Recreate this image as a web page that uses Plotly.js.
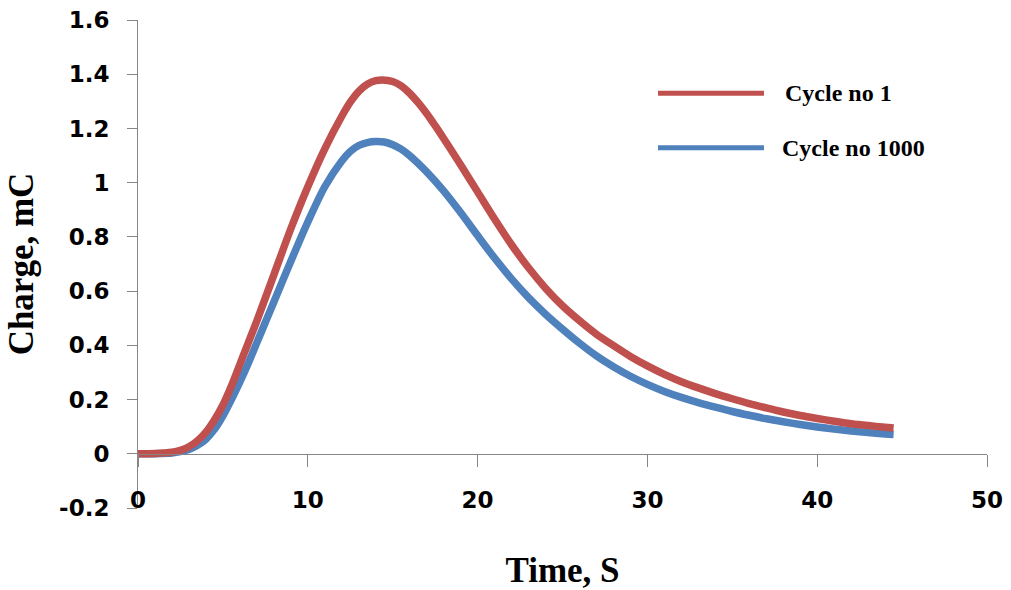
<!DOCTYPE html>
<html>
<head>
<meta charset="utf-8">
<script src="https://cdn.plot.ly/plotly-3.0.1.min.js"></script>
<style>html,body{margin:0;padding:0;background:#fff;}#chart{width:1011px;height:590px;}</style>
</head>
<body>
<div id="chart"></div>
<script>
// Data
const seriesNames = ["Cycle no 1", "Cycle no 1000"];
const timeRed = [0, 1, 2, 2.5, 3, 3.5, 4, 4.5, 5, 5.5, 6, 6.5, 7, 8, 9, 10, 11, 12, 12.5, 13, 13.5, 14, 14.4, 15, 15.5, 16, 16.5, 17, 17.5, 18, 18.5, 19, 20, 21, 22, 23, 24, 25, 26, 27, 28, 29, 30, 31, 32, 33, 34, 35, 36, 37, 38, 39, 40, 41, 42, 43, 44, 44.5];
const chargeRed = [0, 0.001, 0.006, 0.013, 0.026, 0.048, 0.08, 0.125, 0.18, 0.25, 0.33, 0.41, 0.49, 0.66, 0.83, 0.985, 1.125, 1.245, 1.297, 1.337, 1.363, 1.376, 1.379, 1.373, 1.357, 1.33, 1.295, 1.255, 1.21, 1.163, 1.115, 1.066, 0.966, 0.866, 0.771, 0.686, 0.611, 0.546, 0.491, 0.441, 0.399, 0.359, 0.324, 0.293, 0.266, 0.243, 0.222, 0.203, 0.185, 0.169, 0.154, 0.141, 0.13, 0.12, 0.111, 0.104, 0.098, 0.095];
const timeBlue = [0, 1, 2, 2.5, 3, 3.5, 4, 4.5, 5, 5.5, 6, 6.5, 7, 7.5, 8, 9, 10, 11, 12, 12.5, 13, 13.5, 14, 14.5, 15, 15.5, 16, 17, 18, 19, 20, 21, 22, 23, 24, 25, 26, 27, 28, 29, 30, 31, 32, 33, 34, 35, 36, 37, 38, 39, 40, 41, 42, 43, 44, 44.5];
const chargeBlue = [0, 0.0005, 0.003, 0.008, 0.016, 0.031, 0.054, 0.09, 0.14, 0.2, 0.265, 0.335, 0.41, 0.485, 0.56, 0.71, 0.855, 0.985, 1.08, 1.115, 1.137, 1.148, 1.152, 1.15, 1.14, 1.124, 1.1, 1.04, 0.97, 0.89, 0.805, 0.722, 0.645, 0.576, 0.515, 0.46, 0.408, 0.361, 0.321, 0.286, 0.256, 0.23, 0.208, 0.189, 0.172, 0.156, 0.142, 0.129, 0.118, 0.108, 0.099, 0.091, 0.084, 0.078, 0.073, 0.071];
const yTickVals = [-0.2, 0, 0.2, 0.4, 0.6, 0.8, 1, 1.2, 1.4, 1.6];
const yTickText = ["-0.2", "0", "0.2", "0.4", "0.6", "0.8", "1", "1.2", "1.4", "1.6"];
const xTickVals = [0, 10, 20, 30, 40, 50];
const xTickText = ["0", "10", "20", "30", "40", "50"];

const RED = "#C0504D", BLUE = "#4F81BD", AXIS = "#868686";
const tickFont = {family: "DejaVu Sans", size: 23, weight: "bold", color: "#000"};
const titleFont = {family: "Liberation Serif", size: 35, weight: "bold", color: "#000"};
const legFont = {family: "Liberation Serif", size: 24, weight: "bold", color: "#000"};

const traces = [
  {x: timeBlue, y: chargeBlue, name: seriesNames[1], type: "scatter", mode: "lines",
   line: {color: BLUE, width: 7.5, shape: "spline", smoothing: 0.8}, showlegend: false},
  {x: timeRed, y: chargeRed, name: seriesNames[0], type: "scatter", mode: "lines",
   line: {color: RED, width: 7.5, shape: "spline", smoothing: 0.8}, showlegend: false}
];

const yPos = (0 - (-0.2)) / (1.6 - (-0.2));

const layout = {
  width: 1011, height: 590,
  margin: {l: 138, r: 24, t: 20, b: 82},
  paper_bgcolor: "#fff", plot_bgcolor: "#fff",
  showlegend: false,
  xaxis: {
    range: [0, 50], anchor: "free", position: yPos,
    tickvals: xTickVals, ticktext: xTickText,
    showgrid: false, zeroline: false,
    showline: true, linecolor: AXIS, linewidth: 1,
    ticks: "outside", ticklen: 12, tickcolor: AXIS, tickwidth: 1,
    tickfont: tickFont, ticklabelstandoff: 14,
    title: {text: "Time, S", font: titleFont, standoff: 51}
  },
  yaxis: {
    range: [-0.2, 1.6],
    tickvals: yTickVals, ticktext: yTickText,
    showgrid: false, zeroline: false,
    showline: true, linecolor: AXIS, linewidth: 1,
    ticks: "outside", ticklen: 10, tickcolor: AXIS, tickwidth: 1,
    tickfont: tickFont, ticklabelstandoff: 13,
    title: {text: "Charge, mC", font: titleFont, standoff: 14}
  },
  shapes: [
    {type: "line", xref: "paper", yref: "paper", x0: 0.6125, x1: 0.7373, y0: 0.850, y1: 0.850,
     line: {color: RED, width: 5}},
    {type: "line", xref: "paper", yref: "paper", x0: 0.6125, x1: 0.7373, y0: 0.7384, y1: 0.7384,
     line: {color: BLUE, width: 5}}
  ],
  annotations: [
    {xref: "paper", yref: "paper", x: 0.7597, y: 0.850, xanchor: "left", yanchor: "middle",
     text: seriesNames[0], showarrow: false, font: legFont},
    {xref: "paper", yref: "paper", x: 0.7562, y: 0.7384, xanchor: "left", yanchor: "middle",
     text: seriesNames[1], showarrow: false, font: legFont}
  ]
};

Plotly.newPlot("chart", traces, layout, {displayModeBar: false, staticPlot: true});
</script>
</body>
</html>
